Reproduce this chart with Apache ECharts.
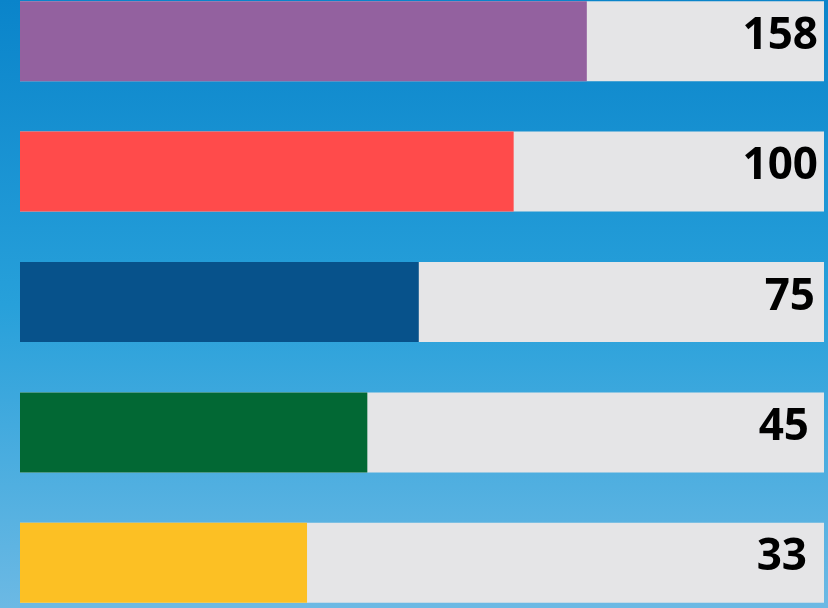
<!DOCTYPE html>
<html><head><meta charset="utf-8">
<script src="https://cdn.jsdelivr.net/npm/echarts@6/dist/echarts.min.js"></script>
<style>html,body{margin:0;padding:0;}#c{width:828px;height:608px;}</style>
</head><body><div id="c"></div>
<script>
const categories = ['A', 'B', 'C', 'D', 'E'];
const labelValues = [158, 100, 75, 45, 33];
const barLengths = [70.5, 61.4, 49.6, 43.2, 35.7];
const trackValues = [100, 100, 100, 100, 100];
const barColors = ['#93619f', '#ff4b4b', '#07528b', '#026834', '#fcc024'];
const labelDistances = [6, 6, 9, 15, 17];

const chart = echarts.init(document.getElementById('c'));
chart.setOption({
  backgroundColor: new echarts.graphic.LinearGradient(0, 0, 0, 1, [
    {offset: 0, color: '#0a84ca'},
    {offset: 0.5, color: '#27a0da'},
    {offset: 1, color: '#6cb9e4'}
  ]),
  animation: false,
  grid: {left: 20, right: 4, top: -24, bottom: -20, outerBoundsMode: 'none', containLabel: false},
  xAxis: {type: 'value', min: 0, max: 100, show: false},
  yAxis: {type: 'category', data: categories, inverse: true, show: false},
  series: [
    {
      type: 'bar', barWidth: 80, barGap: '-100%',
      data: trackValues.map((v, i) => ({
        value: v,
        label: {distance: labelDistances[i]}
      })),
      itemStyle: {color: '#e5e5e7'}, silent: true, z: 1,
      label: {
        show: true, position: 'insideRight', offset: [0, -5],
        formatter: p => String(labelValues[p.dataIndex]),
        fontFamily: 'Open Sans', fontWeight: 'bold', fontSize: 44, color: '#000'
      }
    },
    {
      type: 'bar', data: barLengths, barWidth: 80, z: 2,
      itemStyle: {color: p => barColors[p.dataIndex]}
    }
  ]
});
</script></body></html>
